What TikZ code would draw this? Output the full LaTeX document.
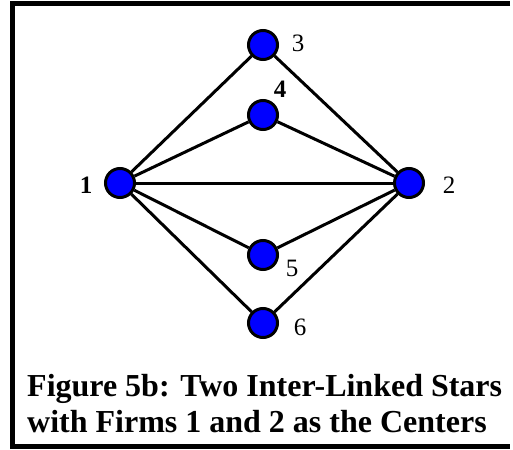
\documentclass[tikz,border=0pt]{standalone}
\usepackage{fontspec}
\setmainfont{Liberation Serif}

\tikzset{
  firm/.style={circle, draw, line width=3pt, fill={rgb,255:red,0;green,0;blue,255}, minimum size=29pt, inner sep=0pt},
  firmlabel/.style={font=\fontsize{25}{27}\selectfont, inner sep=0pt},
  boldlabel/.style={font=\fontsize{25}{27}\selectfont\bfseries, inner sep=0pt},
  link/.style={line width=3pt}
}

\begin{document}
\begin{tikzpicture}[x=1pt, y=-1pt]

  \useasboundingbox (0,0) rectangle (513,449);

  % --- cornice (aperta a destra) ---
  \draw[line width=5pt] (510,4) -- (12,4) -- (12,446) -- (510,446);

  % --- i due centri ---
  \node[firm] (f1) at (120,183) {};
  \node[firm] (f2) at (409,183) {};

  % --- le altre imprese ---
  \node[firm] (f3) at (263,45) {};
  \node[firm] (f4) at (263,115) {};
  \node[firm] (f5) at (263,255) {};
  \node[firm] (f6) at (263,323) {};

  % --- etichette ---
  \node[boldlabel] (l1) at (86,185) {1};
  \node[firmlabel] (l2) at (449,185) {2};
  \node[firmlabel] (l3) at (298,43) {3};
  \node[boldlabel] (l4) at (280,89) {4};
  \node[firmlabel] (l5) at (292,268) {5};
  \node[firmlabel] (l6) at (300,327) {6};

  % --- collegamenti ---
  \draw[link] (f1) -- (f2);
  \foreach \k in {3,4,5,6} {
    \draw[link] (f1) -- (f\k);
    \draw[link] (f2) -- (f\k);
  }

  % --- didascalia ---
  \node[anchor=base west, inner sep=0pt, font=\fontsize{32}{36}\selectfont\bfseries] (cap1) at (27,396) {Figure 5b: Two Inter-Linked Stars};
  \node[anchor=base west, inner sep=0pt, font=\fontsize{32}{36}\selectfont\bfseries] (cap2) at (27,432) {with Firms 1 and 2 as the Centers};

\end{tikzpicture}
\end{document}
